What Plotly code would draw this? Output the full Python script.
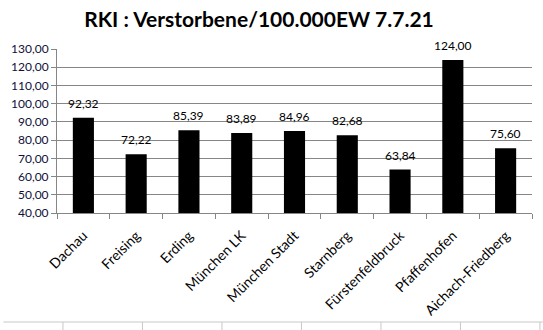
import plotly.graph_objects as go

# Districts and deaths per 100,000 inhabitants (RKI, 7.7.21)
landkreise = ["Dachau", "Freising", "Erding", "München LK", "München Stadt",
              "Starnberg", "Fürstenfeldbruck", "Pfaffenhofen", "Aichach-Friedberg"]
verstorbene = [92.32, 72.22, 85.39, 83.89, 84.96, 82.68, 63.84, 124.00, 75.60]
y_ticks = [40, 50, 60, 70, 80, 90, 100, 110, 120, 130]

FONT = "Lato"
GRID = "#868686"

fig = go.Figure(
    go.Bar(
        x=landkreise,
        y=verstorbene,
        marker=dict(color="black", line=dict(width=0)),
        width=0.4,
        cliponaxis=False,
    )
)

# Value labels above each bar
for name, v in zip(landkreise, verstorbene):
    fig.add_annotation(
        x=name, y=v, xref="x", yref="y",
        text=f"{v:.2f}".replace(".", ","),
        showarrow=False, yanchor="bottom", yshift=5,
        font=dict(family=FONT, size=12, color="black"),
    )

fig.update_layout(
    width=543,
    height=330,
    margin=dict(l=54, r=11, t=49, b=117),
    paper_bgcolor="white",
    plot_bgcolor="white",
    separators=",.",
    showlegend=False,
    title=dict(
        text="<b>RKI : Verstorbene/100.000EW 7.7.21</b>",
        x=259 / 543,
        xanchor="center",
        xref="container",
        y=1 - 20 / 330,
        yanchor="middle",
        yref="container",
        font=dict(family=FONT, size=21, color="black"),
    ),
    xaxis=dict(
        tickangle=-45,
        tickson="boundaries",
        ticks="outside",
        ticklen=5,
        tickcolor=GRID,
        ticklabelstandoff=8,
        showline=True,
        linecolor=GRID,
        linewidth=1,
        showgrid=False,
        tickfont=dict(family=FONT, size=14, color="black"),
    ),
    yaxis=dict(
        range=[40, 130],
        tickvals=y_ticks,
        tickformat=".2f",
        ticks="outside",
        ticklen=5,
        tickcolor=GRID,
        showline=True,
        linecolor=GRID,
        linewidth=1,
        showgrid=True,
        gridcolor=GRID,
        gridwidth=1,
        zeroline=False,
        tickfont=dict(family=FONT, size=12, color="#10103a"),
    ),
)

# Spreadsheet cell borders visible beneath the chart
y_row = (330 - 117 - 322) / 164
y_bottom = (330 - 117 - 330) / 164
shapes = [dict(type="line", xref="paper", yref="paper",
               x0=-54 / 478, x1=(543 - 54) / 478, y0=y_row, y1=y_row,
               line=dict(color="#c8c8c8", width=1))]
for px in [60, 140, 220, 300, 380, 460, 540]:
    xp = (px - 54) / 478
    shapes.append(dict(type="line", xref="paper", yref="paper",
                       x0=xp, x1=xp, y0=y_row, y1=y_bottom,
                       line=dict(color="#c8c8c8", width=1)))
fig.update_layout(shapes=shapes)

fig.write_html("out.html")
